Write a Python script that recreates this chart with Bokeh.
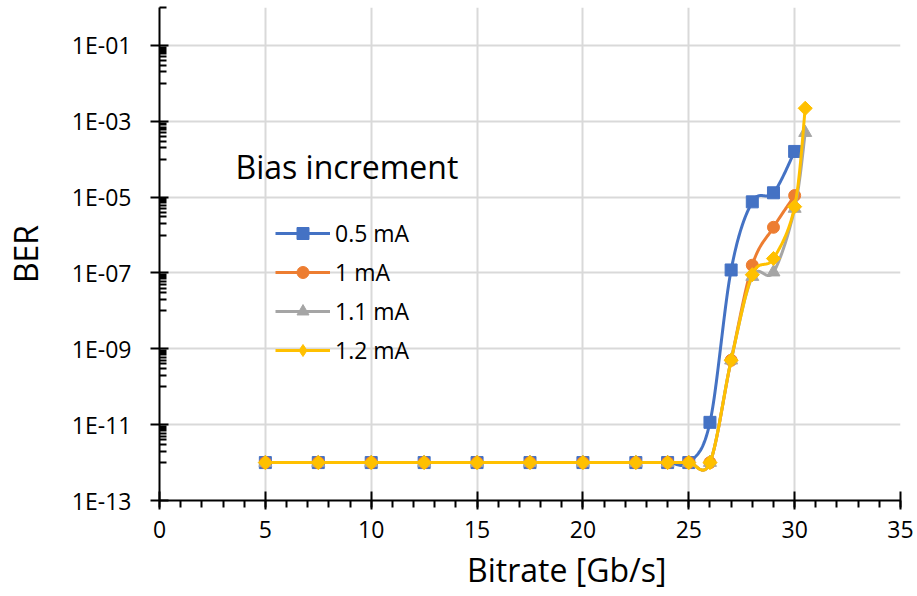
import math
from bokeh.plotting import figure
from bokeh.models import (Range1d, FixedTicker, CustomJSTickFormatter, Legend,
                          LegendItem, Label, ColumnDataSource, Title)
from bokeh.embed import file_html
from bokeh.resources import INLINE

# ---------------- data ----------------
series_names = ["0.5 mA", "1 mA", "1.1 mA", "1.2 mA"]

bitrate_05 = [5, 7.5, 10, 12.5, 15, 17.5, 20, 22.5, 24, 25, 26, 27, 28, 29, 30]
ber_05 = [1e-12, 1e-12, 1e-12, 1e-12, 1e-12, 1e-12, 1e-12, 1e-12, 1e-12, 1e-12,
          1.15e-11, 1.2e-7, 7.5e-6, 1.3e-5, 1.6e-4]

bitrate_10 = [5, 7.5, 10, 12.5, 15, 17.5, 20, 22.5, 24, 25, 26, 27, 28, 29, 30]
ber_10 = [1e-12, 1e-12, 1e-12, 1e-12, 1e-12, 1e-12, 1e-12, 1e-12, 1e-12, 1e-12,
          1e-12, 5e-10, 1.6e-7, 1.6e-6, 1.1e-5]

bitrate_11 = [5, 7.5, 10, 12.5, 15, 17.5, 20, 22.5, 24, 25, 26, 27, 28, 29, 30, 30.5]
ber_11 = [1e-12, 1e-12, 1e-12, 1e-12, 1e-12, 1e-12, 1e-12, 1e-12, 1e-12, 1e-12,
          1e-12, 5e-10, 8e-8, 1.05e-7, 5e-6, 5e-4]

bitrate_12 = [5, 7.5, 10, 12.5, 15, 17.5, 20, 22.5, 24, 25, 26, 27, 28, 29, 30, 30.5]
ber_12 = [1e-12, 1e-12, 1e-12, 1e-12, 1e-12, 1e-12, 1e-12, 1e-12, 1e-12, 1e-12,
          1e-12, 5e-10, 9e-8, 2.4e-7, 5.6e-6, 2.2e-3]

x_ticks = [0, 5, 10, 15, 20, 25, 30, 35]
y_ticks = [1e-13, 1e-11, 1e-9, 1e-7, 1e-5, 1e-3, 1e-1]
y_tick_labels = ["1E-13", "1E-11", "1E-09", "1E-07", "1E-05", "1E-03", "1E-01"]

# ---------------- styling ----------------
colors = ["#4472C4", "#ED7D31", "#A5A5A5", "#FFC000"]
FONT = "Open Sans"


def smooth_path(xs, ys, n=30):
    """Excel-like smoothed line through the data (Bezier in x / log10(y) space)."""
    ly = [math.log10(v) for v in ys]
    N = len(xs)
    ox, oy = [], []
    for i in range(N - 1):
        x0, y0 = xs[i], ly[i]
        x1, y1 = xs[i + 1], ly[i + 1]
        xm, ym = (xs[i - 1], ly[i - 1]) if i > 0 else (x0, y0)
        xp, yp = (xs[i + 2], ly[i + 2]) if i + 2 < N else (x1, y1)
        c1x, c1y = x0 + (x1 - xm) / 6.0, y0 + (y1 - ym) / 6.0
        c2x, c2y = x1 - (xp - x0) / 6.0, y1 - (yp - y0) / 6.0
        last = 1 if i == N - 2 else 0
        for k in range(n + last):
            t = k / n
            a, b, c, d = (1 - t) ** 3, 3 * (1 - t) ** 2 * t, 3 * (1 - t) * t ** 2, t ** 3
            ox.append(a * x0 + b * c1x + c * c2x + d * x1)
            oy.append(10 ** (a * y0 + b * c1y + c * c2y + d * y1))
    return ox, oy


p = figure(width=917, height=596, output_backend="svg", toolbar_location=None,
           y_axis_type="log",
           x_range=Range1d(0, 35), y_range=Range1d(1e-13, 1),
           min_border_left=159, min_border_right=17, min_border_top=7,
           min_border_bottom=96)
p.outline_line_color = None
p.background_fill_color = "white"
p.border_fill_color = "white"

# axes
xminor = list(range(0, 36))
yminor = [m * 10.0 ** k for k in range(-12, 1, 2) for m in range(1, 10)]
p.xaxis.ticker = FixedTicker(ticks=x_ticks, minor_ticks=xminor)
p.yaxis.ticker = FixedTicker(ticks=y_ticks, minor_ticks=yminor)
p.xgrid.ticker = FixedTicker(ticks=x_ticks)
p.ygrid.ticker = FixedTicker(ticks=y_ticks)
p.yaxis.formatter = CustomJSTickFormatter(args=dict(vals=y_ticks, labs=y_tick_labels), code="""
    let best = 0, bd = 1e9;
    for (let i = 0; i < vals.length; i++) {
        const d = Math.abs(Math.log10(vals[i]) - Math.log10(tick));
        if (d < bd) { bd = d; best = i; }
    }
    return labs[best];
""")

for ax in (p.xaxis[0], p.yaxis[0]):
    ax.axis_line_color = "black"
    ax.axis_line_width = 2
    ax.major_tick_line_color = "black"
    ax.major_tick_line_width = 2
    ax.minor_tick_line_color = "black"
    ax.minor_tick_line_width = 2
    ax.major_tick_in = 9
    ax.major_tick_out = 9
    ax.major_label_text_font = FONT
    ax.major_label_text_font_size = "23px"
    ax.major_label_text_color = "black"
    ax.axis_label_text_font = FONT
    ax.axis_label_text_font_size = "32px"
    ax.axis_label_text_font_style = "normal"
    ax.axis_label_text_color = "black"

p.xaxis.minor_tick_in = 0
p.xaxis.minor_tick_out = 7
p.xaxis.major_label_standoff = 11
p.yaxis.minor_tick_in = 7
p.yaxis.minor_tick_out = 0
p.yaxis.major_label_standoff = 19
p.yaxis.axis_label = "BER"
p.yaxis.axis_label_standoff = 22

p.xgrid.grid_line_color = "#D9D9D9"
p.ygrid.grid_line_color = "#D9D9D9"
p.xgrid.grid_line_width = 2
p.ygrid.grid_line_width = 2

# series
series = [(bitrate_05, ber_05, "square", 12, 0.0),
          (bitrate_10, ber_10, "circle", 12, 0.0),
          (bitrate_11, ber_11, "triangle", 13, 0.0),
          (bitrate_12, ber_12, "square", 10, math.pi / 4)]

items = []
for (xs, ys, marker, size, ang), col, name in zip(series, colors, series_names):
    sx, sy = smooth_path(xs, ys)
    lr = p.line(sx, sy, line_color=col, line_width=3, line_join="round")
    src = ColumnDataSource(dict(x=xs, y=ys))
    legend_r = None
    if ang != 0.0:
        # upright diamond hidden inside the rotated square; used for the legend swatch
        legend_r = p.scatter("x", "y", source=src, marker="diamond", size=12,
                             fill_color=col, line_color=col, line_width=1)
    sr = p.scatter("x", "y", source=src, marker=marker, size=size, angle=ang,
                   fill_color=col, line_color=col, line_width=1)
    items.append(LegendItem(label=name, renderers=[lr, legend_r if legend_r is not None else sr]))

legend = Legend(items=items, location=(116, 134), glyph_width=55, glyph_height=30,
                label_height=30, label_standoff=5, spacing=7, padding=0, margin=0,
                border_line_color=None, background_fill_alpha=0,
                label_text_font=FONT, label_text_font_size="23px",
                label_text_color="black")
p.add_layout(legend)

p.add_layout(Label(x=76, y=334, x_units="screen", y_units="screen",
                   text="Bias increment", text_font=FONT, text_font_size="32px",
                   text_color="black", text_baseline="alphabetic"))

xtitle = Title(text="Bitrate [Gb/s]", align="right", offset=234,
               text_font=FONT, text_font_size="32px", text_font_style="normal",
               text_color="black", standoff=10)
p.add_layout(xtitle, "below")

open("out.html", "w").write(file_html(p, INLINE))
